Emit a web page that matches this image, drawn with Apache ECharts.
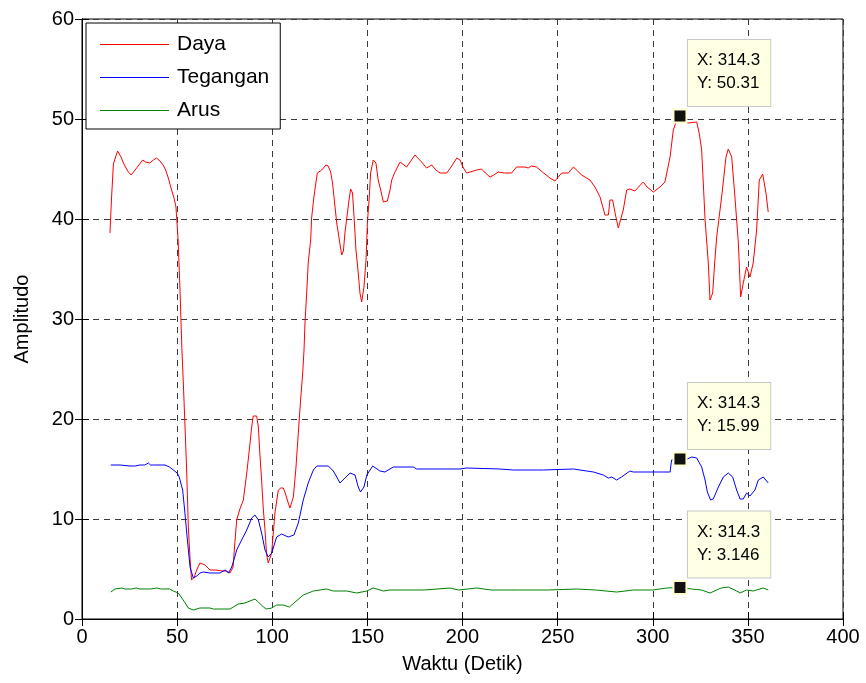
<!DOCTYPE html>
<html>
<head>
<meta charset="utf-8">
<script src="https://cdn.jsdelivr.net/npm/echarts@6/dist/echarts.min.js"></script>
<style>
html,body{margin:0;padding:0;background:#fff;}
#chart{width:866px;height:683px;}
</style>
</head>
<body>
<div id="chart"></div>
<script>
// data
var xTicks = [0, 50, 100, 150, 200, 250, 300, 350, 400];
var yTicks = [0, 10, 20, 30, 40, 50, 60];

var dayaX = [14.7,15.5,16.5,18.7,20.5,22,24,25.8,27.5,29.5,31.9,33.5,35.7,37.5,39.2,41,42.6,44,45.2,47.1,48.5,49.4,50.5,51.5,52.5,53.2,54.2,55,55.9,56.8,57.6,59,60.5,62,64.7,67.3,70,74.1,76,77.8,79.4,80.3,81.3,83,84.8,86.6,88,89.2,90,91.8,92.7,93.5,94.4,95.3,96.2,97,97.9,98.8,99.7,100.5,101.4,103.2,104.5,105.8,107,108.4,109.3,110.2,111.1,112.4,113.7,114.9,116,116.7,117.2,118.1,118.9,120.2,120.7,121.9,123,123.7,126,128.2,129.4,130.7,131.7,133,133.9,135.1,136.5,137.4,138.2,139.5,140.5,141.2,142.2,143,144,145.2,146.1,147,148.2,149.3,150,151,151.7,153.1,154.5,155.7,157,158.4,160.5,161.9,162.8,164.5,167.2,170.6,175,178.5,181.1,183.8,186,188.2,191.7,194,197,198.7,200.5,202.2,204,207.5,210,212,214.5,216.5,218.8,222,225.8,228.4,232.8,234.5,236.3,238.9,242,246,248.6,252.1,255.6,258.3,260.5,262.6,267,269.6,272.3,274.9,276.7,277.5,278.9,280.2,281.9,282.8,284.5,286.3,288,290.6,293,295,297,300.3,303.8,306.4,307.8,309.1,310.8,313.4,314.3,315.2,316.5,318.7,323.1,324.5,325.7,326.6,327.5,329.2,330.1,331.5,332.5,333.6,336.2,338.5,339.7,341.5,343.2,345,346.2,347.6,349.3,351.1,352.8,354.6,356,357.8,359.5,360.7];
var dayaY = [38.6,42,45.5,46.8,46.2,45.5,44.8,44.4,44.8,45.3,45.9,45.7,45.6,45.9,46.1,45.8,45.4,44.9,44.2,42.9,42,41.2,38,33,27,23.9,19,14.9,9.2,6,3.9,4.2,5,5.6,5.4,4.9,4.9,4.8,4.8,4.6,5.2,7.5,9.9,11,11.9,14.6,17,19.2,20.3,20.3,19.2,16.5,13.9,11,8.9,6.5,5.6,5.8,6.6,8.5,10.6,12.9,13.1,13.1,12.5,11.6,11.1,11.3,12.2,15,18.6,21.9,24.6,26.9,29.6,32.6,35.6,37.9,40.1,42.2,43.7,44.6,44.9,45.4,45.3,44.7,43.6,41.2,39.6,38.1,36.4,36.8,38.6,40.6,42.1,43,42.6,40.2,36.9,34.6,32.6,31.7,33.2,35.9,39.6,42.2,44.6,45.9,45.6,43.9,42.9,41.7,41.8,42.9,43.9,44.7,45.7,45.2,46.4,45.7,45.1,45.4,44.9,44.6,44.6,45.2,46.1,45.9,45.1,44.6,44.7,44.9,45,44.6,44.2,44.4,44.7,44.6,44.6,45.2,45.2,45.1,45.3,45.2,44.7,44.1,43.8,44.6,44.6,45.2,44.8,44.4,43.9,43.2,42.2,40.4,40.4,41.9,41.9,40.6,39.1,39.1,40.9,42.9,43,42.8,43.3,43.7,43.2,42.7,43.2,43.7,45,46.2,48.9,50.3,50.31,50.1,49.7,49.6,49.7,48.5,46.9,43.5,39.9,35.6,31.9,32.6,35.5,38.2,42.2,46.2,47,46.2,42.2,37.6,32.2,33.6,35.2,34.2,35.6,38.9,43.9,44.5,42.6,40.7];

var teganganX = [15.1,20,25.2,28,30.4,33,34.9,36,37.5,43.6,46,48,50,51.1,52.9,54.1,55.4,56.8,58.5,60.3,62,63.8,67.3,72.5,75.2,77,78.7,80,81.3,83.9,86.6,89.2,90.9,92.7,94.4,96.2,97.9,99.7,102.3,104.9,108.4,109.3,111.4,113.7,116.3,118.9,121.6,123.4,129.5,132.1,133.9,135.6,138.2,140.9,143.5,145.2,146.4,148.2,149.7,152.8,156.6,159.2,163.6,174.1,175.9,198.7,202.2,219.7,226.7,242.5,258.3,268.8,274,276.7,278.5,281,283.6,288,289.8,296.8,309.1,309.9,312.6,314.3,316.9,320.5,323.1,325.7,327.5,328.7,330.4,331.8,334.5,337.1,339.7,342,344.1,345.9,347.6,349.3,351.1,353.7,355.5,358.1,360.7];
var teganganY = [15.4,15.4,15.3,15.3,15.4,15.4,15.6,15.4,15.4,15.4,15.2,14.9,14.6,14.2,12.9,10.6,7.9,5.2,4.1,4.3,4.6,4.7,4.6,4.6,4.9,4.6,5.2,6,6.9,7.9,8.9,10.1,10.4,9.9,8.6,6.9,6.2,6.6,8.2,8.5,8.2,8,8.4,9.6,11.9,13.6,14.9,15.3,15.3,14.8,14.2,13.6,14.1,14.6,14.4,13.2,12.7,13.2,14.4,15.3,14.8,14.7,15.2,15.2,15,15,15.1,15,14.9,14.9,15,14.7,14.4,14.1,14.2,13.9,14.2,14.8,14.7,14.7,14.7,15.9,16,15.99,15.9,16.2,16.1,15.2,13.9,12.7,11.9,12,13.2,14.2,14.6,14.2,12.9,12,12,12.6,12.3,12.9,13.9,14.2,13.6];

var arusX = [15.1,17.3,20.8,22.6,26,28.5,30.4,36,39.2,41.8,46,48,50.6,53.2,55.9,58.5,62,67.3,69,77.8,79.5,82.2,85.7,88.3,90.9,92.7,95.3,97,99.7,102.3,105.8,109,112,116.3,121.6,128.6,132.1,139.1,144.4,149.7,153.1,158.4,161.9,170,180,193.4,198,207.5,215,230,245,260,270,281,290,300,307.3,314.3,320.5,325.7,330.1,333.6,336,339.7,344.1,345.9,349.3,352.8,358.1,360.7];
var arusY = [2.7,3,3.1,3,3,3.1,3,3,3.1,3,3,2.8,2.6,1.9,1.1,0.9,1.1,1.1,1,1,1.2,1.5,1.6,1.8,2,1.7,1.2,1,1.1,1.4,1.4,1.2,1.7,2.4,2.8,3,2.8,2.8,2.6,2.8,3.1,2.8,2.9,2.9,2.9,3.1,2.9,3.1,2.9,2.9,2.9,3,2.9,2.7,2.9,2.9,3.1,3.146,3,2.9,2.6,2.9,3.1,3.2,2.8,2.6,2.9,2.8,3.1,2.9];

// data tip
var tipX = 314.3;
var tipXText = '314.3';
var tipY = [50.31, 15.99, 3.146];
var tipYText = ['50.31', '15.99', '3.146'];

var seriesNames = ['Daya', 'Tegangan', 'Arus'];
var seriesColors = ['#ff0000', '#0000ff', '#008000'];

var FONT = '"Liberation Sans", Arial, Helvetica, sans-serif';

function pairs(xs, ys){
	return xs.map(function(x, i){ return [x, ys[i]]; });
}

function tipMark(i){
	return {
		symbol: 'rect',
		symbolSize: 13,
		silent: true,
		itemStyle: {color: '#111', borderColor: '#ffffd0', borderWidth: 2},
		label: {
			show: true,
			position: [15.5, -2.5],
			align: 'left',
			verticalAlign: 'bottom',
			formatter: 'X: ' + tipXText + '\nY: ' + tipYText[i],
			fontFamily: FONT,
			fontSize: 17,
			lineHeight: 23,
			color: '#000',
			backgroundColor: '#ffffe4',
			borderColor: '#c8c8c8',
			borderWidth: 1,
			padding: [9, 10, 11, 9]
		},
		data: [{coord: [tipX, tipY[i]]}]
	};
}

var allData = [pairs(dayaX, dayaY), pairs(teganganX, teganganY), pairs(arusX, arusY)];

var series = seriesNames.map(function(name, i){
	return {
		name: name,
		type: 'line',
		xAxisIndex: 0,
		yAxisIndex: 0,
		data: allData[i],
		symbol: 'none',
		smooth: false,
		animation: false,
		lineStyle: {color: seriesColors[i], width: 1},
		itemStyle: {color: seriesColors[i]},
		markPoint: tipMark(i)
	};
});

var dash = {color: '#3a3a3a', width: 1, type: [6, 5]};

var chart = echarts.init(document.getElementById('chart'), null, {renderer: 'canvas'});
chart.setOption({
	backgroundColor: '#fff',
	animation: false,
	grid: {left: 82, right: 23, top: 19, bottom: 64, show: true, borderColor: '#000', borderWidth: 1, backgroundColor: 'transparent'},
	legend: {
		orient: 'vertical',
		left: 86, top: 23,
		data: seriesNames.map(function(n){ return {name: n, icon: 'rect'}; }),
		itemWidth: 69, itemHeight: 1,
		itemGap: 12,
		padding: [11, 11, 8, 14],
		backgroundColor: '#fff',
		borderColor: '#000',
		borderWidth: 1,
		borderRadius: 0,
		itemStyle: {borderWidth: 0},
		lineStyle: {width: 0},
		textStyle: {fontFamily: FONT, fontSize: 21, color: '#000', padding: [0, 0, 0, 3]}
	},
	xAxis: [{
		type: 'value', min: xTicks[0], max: xTicks[xTicks.length - 1], interval: 50,
		name: 'Waktu (Detik)', nameLocation: 'middle', nameGap: 35,
		nameTextStyle: {fontFamily: FONT, fontSize: 20, color: '#000'},
		axisLine: {show: true, lineStyle: {color: '#000'}},
		axisTick: {show: true, inside: true, length: 7, lineStyle: {color: '#000'}},
		axisLabel: {fontFamily: FONT, fontSize: 20, color: '#000', margin: 8},
		splitLine: {show: true, lineStyle: dash}
	}, {
		type: 'value', position: 'top', min: xTicks[0], max: xTicks[xTicks.length - 1], interval: 50,
		axisLine: {show: true, lineStyle: {color: '#000'}},
		axisTick: {show: true, inside: true, length: 7, lineStyle: {color: '#000'}},
		axisLabel: {show: false},
		splitLine: {show: false}
	}],
	yAxis: [{
		type: 'value', min: yTicks[0], max: yTicks[yTicks.length - 1], interval: 10,
		name: 'Amplitudo', nameLocation: 'middle', nameGap: 50,
		nameTextStyle: {fontFamily: FONT, fontSize: 20, color: '#000'},
		axisLine: {show: true, lineStyle: {color: '#000'}},
		axisTick: {show: true, inside: true, length: 7, lineStyle: {color: '#000'}},
		axisLabel: {fontFamily: FONT, fontSize: 20, color: '#000', margin: 8},
		splitLine: {show: true, lineStyle: dash}
	}, {
		type: 'value', position: 'right', min: yTicks[0], max: yTicks[yTicks.length - 1], interval: 10,
		axisLine: {show: true, lineStyle: {color: '#000'}},
		axisTick: {show: true, inside: true, length: 7, lineStyle: {color: '#000'}},
		axisLabel: {show: false},
		splitLine: {show: false}
	}],
	series: series
});
</script>
</body>
</html>
